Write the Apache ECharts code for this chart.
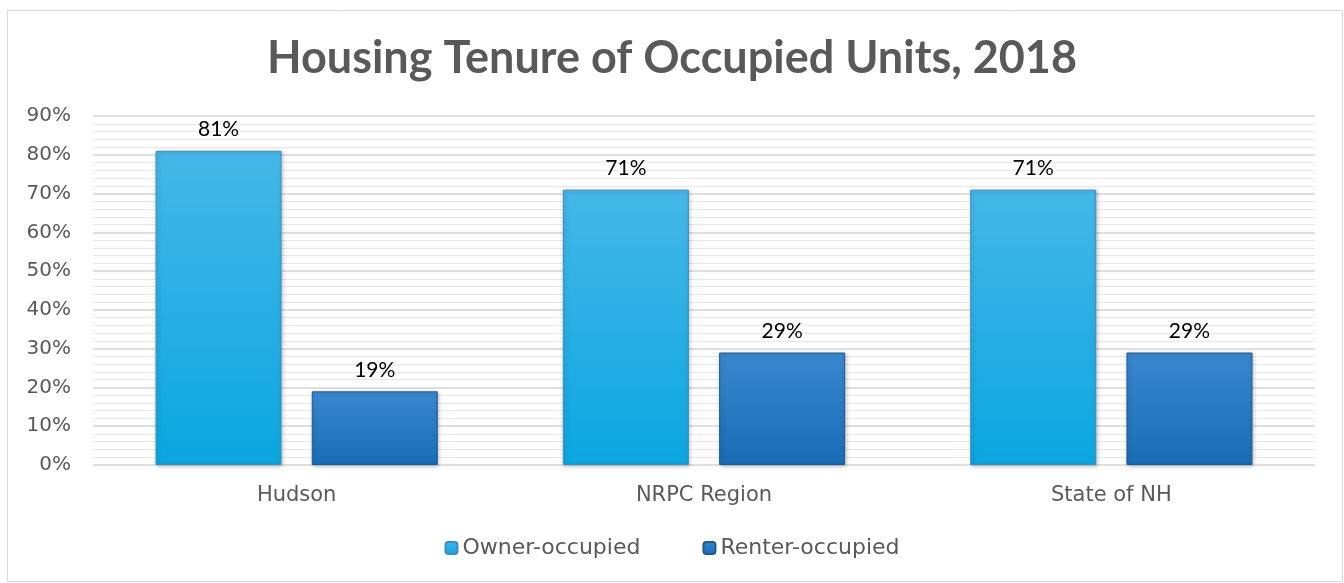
<!DOCTYPE html>
<html><head><meta charset="utf-8">
<script src="https://cdn.jsdelivr.net/npm/echarts@6/dist/echarts.min.js"></script>
<style>html,body{margin:0;padding:0;background:#fff}#c{width:1344px;height:583px}</style>
</head><body><div id="c"></div>
<script>
const categories = ["Hudson", "NRPC Region", "State of NH"];
const ownerValues = [81, 71, 71];
const renterValues = [19, 29, 29];
const seriesNames = ["Owner-occupied", "Renter-occupied"];
const titleText = "Housing Tenure of Occupied Units, 2018";

const FONT = "Lato, 'DejaVu Sans', sans-serif";
const WIDE = "'DejaVu Sans', sans-serif";
const chart = echarts.init(document.getElementById('c'));
function grad(top, bottom){
  return new echarts.graphic.LinearGradient(0,0,0,1,[{offset:0,color:top},{offset:1,color:bottom}]);
}
chart.setOption({
  animation:false,
  backgroundColor:'#fff',
  graphic:[{type:'rect',shape:{x:7.5,y:10.5,width:1335,height:571},style:{fill:'none',stroke:'#d9d9d9',lineWidth:1},silent:true}],
  title:{text:titleText,left:'center',top:31,textStyle:{fontFamily:FONT,fontSize:45,fontWeight:'bold',color:'#595959'}},
  legend:{bottom:19,left:'center',itemWidth:12,itemHeight:12,itemGap:62,
    textStyle:{fontFamily:WIDE,fontSize:22,color:'#595959'},data:seriesNames},
  grid:{left:93,right:29,top:116,bottom:118,containLabel:false},
  xAxis:{type:'category',data:categories,axisLine:{show:false},axisTick:{show:false},
    axisLabel:{fontFamily:WIDE,fontSize:21,color:'#595959',margin:20}},
  yAxis:{type:'value',min:0,max:90,interval:10,
    axisLabel:{formatter:'{value}%',fontFamily:WIDE,fontSize:20,color:'#595959',margin:22},
    splitLine:{lineStyle:{color:'#d4d4d4',width:1.5}},
    minorTick:{show:false,splitNumber:5},
    minorSplitLine:{show:true,lineStyle:{color:'#e8e8e8',width:1.2}}},
  series:[
    {name:seriesNames[0],type:'bar',data:ownerValues,barWidth:126,barGap:'24%',
     itemStyle:{color:grad('#45b7e8','#0ba6e0'),borderColor:'#3a8fc0',borderWidth:1,
       shadowColor:'rgba(0,0,0,0.25)',shadowBlur:4,shadowOffsetX:1,shadowOffsetY:1},
     label:{show:true,position:'top',distance:11,formatter:'{c}%',fontFamily:FONT,fontSize:21,color:'#000'}},
    {name:seriesNames[1],type:'bar',data:renterValues,barWidth:126,
     itemStyle:{color:grad('#3a88cf','#186cb5'),borderColor:'#1e5a90',borderWidth:1,
       shadowColor:'rgba(0,0,0,0.25)',shadowBlur:4,shadowOffsetX:1,shadowOffsetY:1},
     label:{show:true,position:'top',distance:11,formatter:'{c}%',fontFamily:FONT,fontSize:21,color:'#000'}}
  ]
});
</script></body></html>
